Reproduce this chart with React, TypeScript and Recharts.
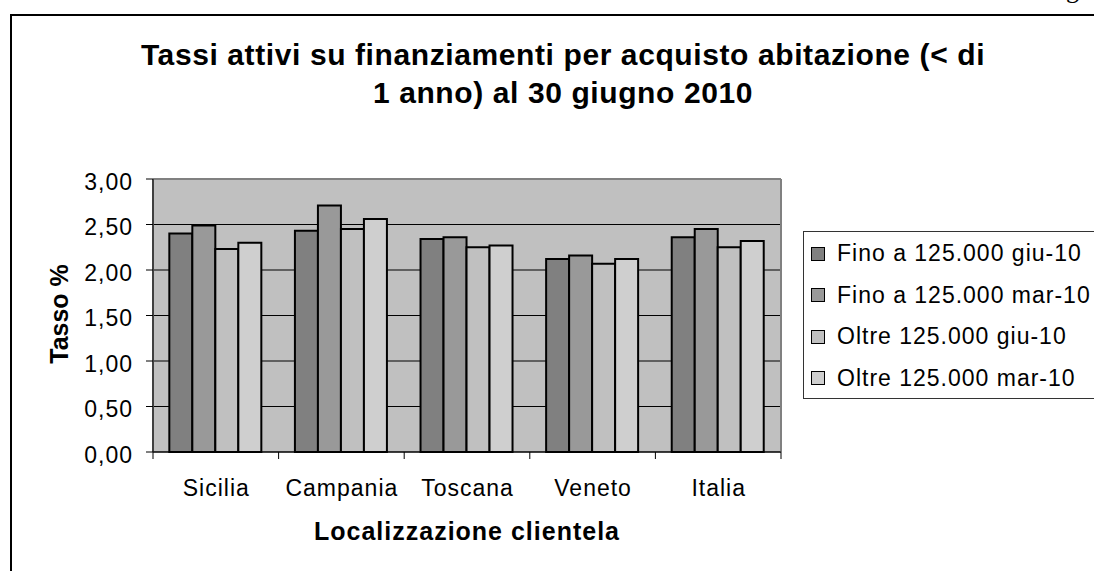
import React from 'react';
import { BarChart, Bar, XAxis, YAxis, CartesianGrid, Legend } from 'recharts';

const CATEGORIES = ['Sicilia', 'Campania', 'Toscana', 'Veneto', 'Italia'];
const FINO_GIU = [2.4, 2.43, 2.34, 2.12, 2.36];
const FINO_MAR = [2.49, 2.71, 2.36, 2.16, 2.45];
const OLTRE_GIU = [2.23, 2.45, 2.25, 2.07, 2.25];
const OLTRE_MAR = [2.3, 2.56, 2.27, 2.12, 2.32];
const SERIES_NAMES = ['Fino a 125.000 giu-10', 'Fino a 125.000 mar-10', 'Oltre 125.000 giu-10', 'Oltre 125.000 mar-10'];
const SERIES_KEYS = ['fgiu', 'fmar', 'ogiu', 'omar'];
const SERIES_COLORS = ['#808080', '#999999', '#C0C0C0', '#CFCFCF'];
const Y_TICKS = [0, 0.5, 1, 1.5, 2, 2.5, 3];
const TITLE_LINES = ['Tassi attivi su finanziamenti per acquisto abitazione (< di', '1 anno) al 30 giugno 2010'];
const X_TITLE = 'Localizzazione clientela';
const Y_TITLE = 'Tasso %';

const data = CATEGORIES.map((name, i) => ({
  name,
  fgiu: FINO_GIU[i],
  fmar: FINO_MAR[i],
  ogiu: OLTRE_GIU[i],
  omar: OLTRE_MAR[i],
}));

const FONT = '"Liberation Sans", Arial, Helvetica, sans-serif';
const fmt = (v: number) => v.toFixed(2).replace('.', ',');

const XTick = (props: any) => {
  const { x, y, payload, width, visibleTicksCount, index } = props;
  const half =
    typeof width === 'number' && visibleTicksCount ? width / visibleTicksCount / 2 : payload?.offset ?? 0;
  const isLast = index === visibleTicksCount - 1;
  return (
    <g>
      <line x1={x - half} x2={x - half} y1={y} y2={y + 7} stroke="#000" strokeWidth={1} />
      {isLast && <line x1={x + half} x2={x + half} y1={y} y2={y + 7} stroke="#000" strokeWidth={1} />}
      <text
        x={x + 0.5}
        y={y + 44}
        textAnchor="middle"
        fontSize={23}
        fontFamily={FONT}
        fill="#000"
        style={{ letterSpacing: 1 }}
      >
        {payload.value}
      </text>
    </g>
  );
};

const YTick = (props: any) => {
  const { x, y, payload } = props;
  return (
    <text
      x={x}
      y={y + 10.5}
      textAnchor="end"
      fontSize={23}
      fontFamily={FONT}
      fill="#000"
      style={{ letterSpacing: 1 }}
    >
      {fmt(payload.value)}
    </text>
  );
};

const LegendContent = (props: any) => {
  const payload = props.payload || [];
  return (
    <div
      style={{
        width: 320,
        height: 168,
        boxSizing: 'border-box',
        border: '1px solid #333',
        background: '#fff',
        paddingTop: 1,
        fontFamily: FONT,
        fontSize: 23,
        letterSpacing: 1,
        color: '#000',
      }}
    >
      {payload.map((e: any, i: number) => (
        <div key={i} style={{ height: 41.5, display: 'flex', alignItems: 'center', whiteSpace: 'nowrap' }}>
          <span
            style={{
              display: 'inline-block',
              width: 12,
              height: 12,
              marginLeft: 7,
              marginRight: 12,
              border: '1px solid #000',
              background: e.color || e.payload?.fill,
            }}
          />
          <span>{e.value}</span>
        </div>
      ))}
    </div>
  );
};

export default function App() {
  return (
    <div
      style={{
        position: 'fixed',
        left: 0,
        top: 0,
        width: 1094,
        height: 571,
        overflow: 'hidden',
        background: '#fff',
        fontFamily: FONT,
      }}
    >
      <div
        style={{
          position: 'absolute',
          left: 1066,
          top: -23,
          fontFamily: '"Liberation Serif", "Times New Roman", serif',
          fontSize: 26,
          lineHeight: '26px',
          color: '#000',
        }}
      >
        g
      </div>
      <div
        style={{
          position: 'absolute',
          left: 10,
          top: 14,
          width: 1300,
          height: 800,
          border: '2px solid #000',
        }}
      />
      <div style={{ position: 'absolute', left: 0, top: 0 }}>
        <BarChart
          width={1094}
          height={571}
          data={data}
          margin={{ top: 179, right: 313, bottom: 79, left: 73 }}
          barCategoryGap="13%"
          barGap={0}
        >
          <CartesianGrid fill="#C0C0C0" vertical={false} stroke="#000" strokeWidth={1} />
          <CartesianGrid
            stroke="#808080"
            strokeWidth={2}
            horizontalCoordinatesGenerator={(p: any) => [p.offset.top]}
            verticalCoordinatesGenerator={(p: any) => [p.offset.left, p.offset.left + p.offset.width]}
          />
          <XAxis
            dataKey="name"
            height={40}
            interval={0}
            tickLine={false}
            tickSize={0}
            tickMargin={0}
            axisLine={{ stroke: '#000', strokeWidth: 1 }}
            tick={(p: any) => <XTick {...p} />}
          />
          <YAxis
            width={80}
            domain={[0, 3]}
            ticks={Y_TICKS}
            interval={0}
            tickSize={7}
            tickMargin={13}
            tickLine={{ stroke: '#000', strokeWidth: 1 }}
            axisLine={{ stroke: '#000', strokeWidth: 1 }}
            tick={(p: any) => <YTick {...p} />}
          />
          <Legend
            layout="horizontal"
            align="center"
            verticalAlign="middle"
            wrapperStyle={{ left: 803, top: 231, width: 320, height: 168 }}
            content={(p: any) => <LegendContent {...p} />}
          />
          {SERIES_KEYS.map((k, i) => (
            <Bar
              key={k}
              dataKey={k}
              name={SERIES_NAMES[i]}
              fill={SERIES_COLORS[i]}
              stroke="#000"
              strokeWidth={2}
              isAnimationActive={false}
            />
          ))}
        </BarChart>
      </div>
      <div
        style={{
          position: 'absolute',
          left: 63,
          top: 35.5,
          width: 1000,
          textAlign: 'center',
          fontSize: 30,
          fontWeight: 'bold',
          lineHeight: '38px',
          letterSpacing: 0.6,
          color: '#000',
          whiteSpace: 'nowrap',
        }}
      >
        {TITLE_LINES.map((l, i) => (
          <div key={i}>{l}</div>
        ))}
      </div>
      <div
        style={{
          position: 'absolute',
          left: 167,
          top: 519,
          width: 600,
          textAlign: 'center',
          fontSize: 25,
          fontWeight: 'bold',
          lineHeight: '25px',
          letterSpacing: 1,
          color: '#000',
          whiteSpace: 'nowrap',
        }}
      >
        {X_TITLE}
      </div>
      <div
        style={{
          position: 'absolute',
          left: 59,
          top: 314,
          transform: 'translate(-50%, -50%) rotate(-90deg)',
          fontSize: 25,
          fontWeight: 'bold',
          lineHeight: '25px',
          color: '#000',
          whiteSpace: 'nowrap',
        }}
      >
        {Y_TITLE}
      </div>
    </div>
  );
}
